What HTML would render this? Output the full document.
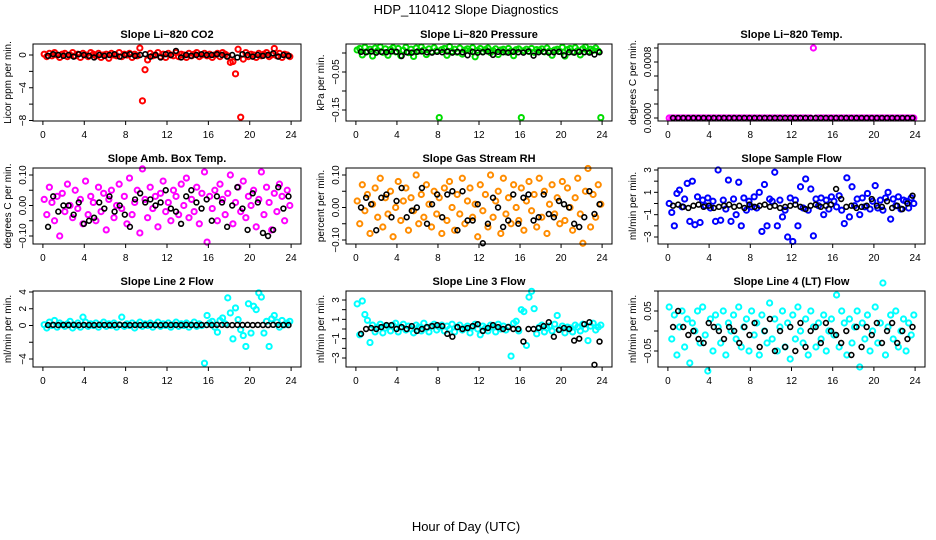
<!DOCTYPE html>
<html><head><meta charset="utf-8">
<style>
html,body{margin:0;padding:0;background:#fff;}
svg{display:block;font-family:"Liberation Sans",Arial,sans-serif;}
</style></head>
<body>
<svg id="chart" width="936" height="540" viewBox="0 0 936 540">
<text x="466" y="14" text-anchor="middle" font-size="13">HDP_110412  Slope Diagnostics</text>
<text x="466" y="531" text-anchor="middle" font-size="13">Hour of Day (UTC)</text>
</svg>
<script>
const xTicks=[0,4,8,12,16,20,24];
const co2Col=[0.1,-0.2,0.2,-0.1,0.3,0.0,-0.3,0.1,0.2,-0.2,0.0,0.3,-0.1,0.1,-0.3,0.2,
0.0,-0.2,0.3,0.1,-0.1,0.2,-0.3,0.0,0.1,-0.4,0.2,0.0,-0.1,0.3,-0.2,0.1,
0.0,0.2,-0.3,0.1,-0.1,0.85,-5.6,-1.8,-0.6,0.2,-0.1,0.0,0.3,-0.2,0.1,-0.3,
0.2,0.0,-0.1,0.3,-0.2,0.1,0.0,-0.3,0.2,-0.1,0.1,0.3,-0.2,0.0,0.2,-0.1,
0.1,-0.3,0.0,0.2,-0.2,0.3,0.1,-0.1,-0.9,-0.8,-2.3,0.7,-7.6,-0.5,0.3,-0.2,
0.1,0.0,-0.3,0.2,-0.1,0.1,0.3,-0.2,0.0,0.8,-0.1,0.2,-0.3,0.1,0.0,-0.2];
const co2Blk=[-0.1,0.1,0.0,-0.1,0.0,-0.2,0.1,0.0,-0.1,-0.3,0.0,-0.1,0.0,0.1,-0.2,0.0,0.1,-0.1,0.0,0.1,-0.2,0.0,-0.3,0.1,0.0,0.5,-0.3,0.0,-0.1,0.0,0.1,0.0,0.0,0.1,0.0,-0.2,0.0,-0.3,0.1,0.0,-0.2,0.0,-0.1,0.0,0.2,-0.2,0.0,-0.1];
const presCol=[.008,.012,-.005,.015,.004,.010,-.008,.013,.006,.016,.002,.011,-.006,.009,.014,.003,
.012,-.007,.007,.015,.001,.010,-.009,.013,.005,.016,.008,-.004,.011,.003,.014,.006,
-.17,.009,.012,-.006,.017,.004,.010,.002,.013,-.003,.008,.011,.005,.014,-.010,.007,
.012,.003,.009,.013,.001,.006,.011,-.004,.008,.010,.003,.012,.005,-.007,.009,.011,
-.17,.006,.010,.004,.012,.002,.009,.007,.011,.003,.013,.005,-.006,.008,.010,.004,
.015,-.008,.009,.012,.003,.014,.006,-.005,.011,.016,.004,.010,.007,.013,.005,-.17];
const presBlk=[.003,.002,.004,.001,.003,.002,.004,.003,-.008,.002,.001,.003,.004,.002,.001,.003,.002,.004,.001,.003,.002,-.006,.003,.001,.002,.004,-.005,.003,.002,.001,.003,.002,.001,.004,-.007,.002,.003,.001,.002,.003,-.006,.002,.001,.003,.002,.001,-.004,.002];
const tempCol=[0,0,0,0,0,0,0,0,0,0,0,0,0,0,0,0,0,0,0,0,0,0,0,0,0,0,0,0,0,0,0,0,
0,0,0,0,0,0,0,0,0,0,0,0,0,0,0,0,0,0,0,0,0,0,0,0,0.001,0,0,0,0,0,0,0,
0,0,0,0,0,0,0,0,0,0,0,0,0,0,0,0,0,0,0,0,0,0,0,0,0,0,0,0,0,0,0,0];
const tempBlk=[0,0,0,0,0,0,0,0,0,0,0,0,0,0,0,0,0,0,0,0,0,0,0,0,0,0,0,0,0,0,0,0,0,0,0,0,0,0,0,0,0,0,0,0,0,0,0,0];
const ambCol=[.02,-.03,.06,.01,-.05,.03,-.10,.04,-.02,.07,.00,-.04,.05,-.01,.02,-.06,
.08,-.03,.03,.01,-.05,.06,-.02,.04,-.08,.02,.05,-.04,.00,.07,-.01,.03,
-.06,.09,-.03,.01,.05,-.09,.12,.02,-.04,.06,-.01,.03,-.07,.04,.08,-.02,
.01,-.05,.05,.03,-.03,.07,.00,.09,-.04,.02,-.02,.06,-.06,.04,.11,-.12,
.03,-.01,.05,-.05,.07,.02,-.03,.04,.10,-.06,.01,.06,-.02,.08,-.04,.03,
.00,.05,-.07,.02,.11,-.03,.06,.01,-.08,.04,-.02,.07,.03,-.05,.05,.00];
const ambBlk=[-.07,.03,-.02,.00,.00,-.03,.01,-.06,-.05,-.04,.01,-.01,.03,-.02,.00,-.03,-.07,.02,.04,.01,.02,.00,.01,.05,-.01,-.02,-.06,.03,.05,.01,-.01,.02,-.05,.03,.01,-.07,.00,.06,-.01,-.08,.04,.01,-.09,-.10,-.08,.06,-.01,.03];
const rhCol=[.02,-.05,.07,-.01,.04,-.08,.01,.06,-.03,.09,-.06,.03,-.02,.05,-.09,.00,
.08,-.04,.02,.06,-.07,.03,-.01,.10,-.05,.04,-.03,.07,.01,-.06,.05,-.02,
.03,-.08,.06,-.04,.08,.00,-.07,.04,-.02,.09,-.05,.02,.06,-.03,.01,-.09,
.07,-.01,.04,-.06,.10,-.03,.02,.05,-.08,.09,-.02,.03,-.05,.07,.00,-.04,
.06,-.07,.02,.08,-.01,.04,-.06,.09,-.03,.05,-.08,.01,.07,-.02,.03,-.05,
.08,-.04,.06,.00,-.07,.03,.09,-.02,-.11,.05,.12,-.06,.04,-.03,.07,.01];
const rhBlk=[.00,.03,.01,-.07,.03,.04,-.03,.02,.06,-.03,-.01,.00,.06,-.05,.01,.04,-.03,.04,.05,-.07,.05,-.04,-.04,.01,-.11,-.05,.03,.00,-.06,-.04,.04,-.05,.03,.04,-.04,-.03,.04,-.02,-.03,.02,.01,.00,-.05,-.06,-.03,.05,-.02,.01];
const sampCol=[0.0,-0.8,-2.0,0.9,1.2,-0.3,0.4,1.8,-1.6,2.0,-1.9,0.6,-1.7,0.3,-0.2,0.5,
-0.4,0.2,-1.6,3.0,-1.5,0.3,-0.5,2.1,-1.6,0.4,-1.0,1.9,-2.0,0.5,-0.6,0.2,
-0.3,0.6,-0.4,1.0,-2.5,1.7,-2.0,0.4,0.2,2.8,-2.0,0.3,-1.2,-0.6,-3.0,0.5,
-3.4,0.3,-2.0,1.5,-0.4,2.2,-0.6,1.3,-2.9,0.4,-0.2,0.5,-1.0,0.3,-0.5,0.6,
0.2,-0.3,0.7,-0.6,-1.8,2.3,-1.2,1.5,-0.2,0.4,-1.0,0.5,-0.3,0.9,-0.5,0.2,
1.6,-0.4,0.3,-0.6,0.5,1.0,-1.4,0.4,-0.2,0.6,-0.5,0.3,0.2,-0.4,0.5,0.0];
const sampBlk=[-0.2,-0.1,-0.3,-0.4,-0.2,-0.1,-0.3,-0.2,-0.4,-0.3,-0.2,-0.1,-0.3,-0.2,-0.4,-0.1,-0.3,-0.2,-0.1,-0.3,-0.2,-0.4,-0.3,-0.2,-0.1,-0.3,-0.5,-0.2,-0.1,-0.3,-0.2,-0.1,1.3,0.4,-0.3,-0.2,-0.4,-0.3,-0.2,0.4,-0.2,-0.3,0.2,-0.4,-0.2,-0.5,0.0,0.7];
const l2Col=[0.1,-0.3,0.4,0.0,0.6,-0.2,0.3,0.1,-0.1,0.2,0.5,-0.3,0.0,0.3,-0.2,1.0,
0.4,-0.1,0.2,0.0,0.3,-0.2,0.1,0.4,-0.1,0.2,0.0,0.3,-0.2,0.1,1.0,-0.1,
0.2,0.0,0.3,-0.3,0.1,0.4,-0.1,0.2,0.0,0.3,-0.2,0.1,0.4,-0.1,0.2,0.0,
0.3,-0.2,0.1,0.4,-0.1,0.2,0.0,0.3,-0.2,0.1,0.4,-0.1,0.2,0.0,-4.5,1.2,
0.3,0.5,-0.2,-0.8,0.6,0.9,0.2,3.3,1.5,-1.6,2.1,0.7,-0.5,-1.2,-2.5,2.6,
-0.9,2.3,1.9,3.9,3.4,-0.9,0.5,-2.5,0.8,1.2,0.4,-0.2,0.6,0.1,0.3,0.5];
const l2Blk=[.05,.08,.05,.07,.06,.08,.05,.07,.06,.05,.08,.07,.05,.06,.08,.07,.05,.06,.05,.08,.07,.06,.05,.08,.06,.07,.05,.08,.06,.05,.07,.06,.05,.08,.07,.06,.05,.07,.06,.08,.05,.07,.06,.05,.08,.07,.06,.05];
const l3Col=[2.6,-0.6,2.9,1.5,0.9,-1.4,0.4,-0.3,0.2,0.5,-0.4,0.1,0.3,-0.2,0.4,0.6,
-0.3,0.2,0.5,-0.1,0.3,0.0,-0.4,0.4,0.2,-0.2,0.6,0.1,-0.3,0.3,0.5,-0.1,
0.2,0.4,-0.2,0.3,0.0,0.5,-0.3,0.2,0.4,-0.1,0.1,0.3,-0.4,0.2,0.5,0.0,
-0.6,0.3,0.1,-0.2,0.4,0.2,-0.3,0.5,0.0,0.3,-0.1,0.2,-2.8,0.6,0.8,-0.2,
2.0,1.8,-1.7,3.3,3.9,2.1,-0.5,0.2,0.4,-0.3,0.1,0.3,-0.2,0.5,1.4,0.0,
0.3,-0.4,0.2,0.1,-0.3,0.4,0.2,-0.2,0.5,0.0,-1.2,0.3,0.6,-0.1,0.2,0.4];
const l3Blk=[-0.5,0.0,0.1,0.0,0.2,0.4,0.4,0.0,0.2,0.0,0.3,-0.2,0.0,0.2,0.3,0.4,0.3,-0.5,-0.8,0.2,0.0,0.1,0.3,0.5,-0.2,0.1,0.4,0.2,0.0,0.2,0.0,0.0,-1.3,0.0,0.0,0.1,0.3,0.7,-0.8,-0.1,0.1,0.0,-1.2,-1.0,0.5,0.7,-3.7,-1.3];
const l4Col=[.06,-.02,.04,-.06,.01,.05,-.04,.03,-.08,.02,.00,.05,-.03,.06,-.01,-.10,
.03,-.05,.04,.01,-.03,.05,-.06,.02,.00,.04,-.02,.06,-.04,.01,.03,-.05,
.05,-.01,.02,-.06,.04,.00,-.03,.07,-.02,.03,-.05,.01,.05,-.04,.02,-.07,
.04,-.02,.06,.00,-.03,.03,-.06,.05,.01,-.04,.02,-.02,.04,-.05,.00,.03,
-.01,.09,-.04,.05,.02,-.06,.03,-.03,.01,.05,-.09,.02,-.02,.04,-.05,.00,
.06,-.03,.02,.12,-.06,.01,.04,-.02,.05,-.04,.00,.03,-.05,.02,-.01,.04];
const l4Blk=[.01,.05,.01,-.01,.00,-.02,-.03,.02,.01,.00,-.02,.01,.00,-.03,.01,-.01,.02,-.04,.00,.03,-.05,.00,-.04,.01,-.05,.02,-.04,.00,.01,-.03,.02,.00,-.01,-.03,.00,-.06,.01,-.04,.01,-.01,.02,-.03,.00,.02,-.03,.00,-.02,.01];

const yT1=[0,-2,-4,-6,-8], yL1=["0","","−4","","−8"];
const yT2=[0,-0.05,-0.10,-0.15], yL2=["","−0.05","","−0.15"];
const yT3=[0,0.0002,0.0004,0.0006,0.0008,0.001], yL3=["0.0000","","","","0.0008",""];
const yT4=[-0.1,-0.05,0,0.05,0.1], yL4=["−0.10","","0.00","","0.10"];
const yT6=[-3,-2,-1,0,1,2,3], yL6=["−3","","−1","","1","","3"];
const yT7=[-4,-2,0,2,4], yL7=["−4","","0","2","4"];
const yT9=[-0.1,-0.05,0,0.05,0.1], yL9=["","−0.05","","0.05",""];

const colsX=[[33,301],[346,612],[658,925]];
const rowsY=[[44,121],[168,244],[291,367]];
const panels=[
 {name:"co2",title:"Slope Li−820 CO2",ylab:"Licor ppm per min.",c:0,r:0,m:[0,55,-8,120.5],t:yT1,l:yL1,color:"#ff0000",col:co2Col,blk:co2Blk},
 {name:"pressure",title:"Slope Li−820 Pressure",ylab:"kPa per min.",c:1,r:0,m:[0,53,-0.15,110],t:yT2,l:yL2,color:"#00dd00",col:presCol,blk:presBlk},
 {name:"temp",title:"Slope Li−820 Temp.",ylab:"degrees C per min.",c:2,r:0,m:[0,118,0.0008,62],t:yT3,l:yL3,color:"#ff00ff",col:tempCol,blk:tempBlk},
 {name:"amb-box-temp",title:"Slope Amb. Box Temp.",ylab:"degrees C per min.",c:0,r:1,m:[0.1,175,-0.1,236],t:yT4,l:yL4,color:"#ff00ff",col:ambCol,blk:ambBlk},
 {name:"gas-stream-rh",title:"Slope Gas Stream RH",ylab:"percent per min.",c:1,r:1,m:[0.1,175,-0.1,240],t:yT4,l:yL4,color:"#ff8c00",col:rhCol,blk:rhBlk},
 {name:"sample-flow",title:"Slope Sample Flow",ylab:"ml/min per min.",c:2,r:1,m:[3,170,-3,237],t:yT6,l:yL6,color:"#0000ff",col:sampCol,blk:sampBlk},
 {name:"line2-flow",title:"Slope Line 2 Flow",ylab:"ml/min per min.",c:0,r:2,m:[4,292,-4,359],t:yT7,l:yL7,color:"#00ffff",col:l2Col,blk:l2Blk},
 {name:"line3-flow",title:"Slope Line 3 Flow",ylab:"ml/min per min.",c:1,r:2,m:[3,300,-3,358],t:yT6,l:yL6,color:"#00ffff",col:l3Col,blk:l3Blk},
 {name:"line4-flow",title:"Slope Line 4 (LT) Flow",ylab:"ml/min per min.",c:2,r:2,m:[0.05,311,-0.05,351],t:yT9,l:yL9,color:"#00ffff",col:l4Col,blk:l4Blk}
];
const NS="http://www.w3.org/2000/svg";
const svg=document.getElementById("chart");
function mk(tag,attrs,parent){const e=document.createElementNS(NS,tag);for(const k in attrs)e.setAttribute(k,attrs[k]);parent.appendChild(e);return e;}
panels.forEach(p=>{
 const [x0,x1]=colsX[p.c],[y0,y1]=rowsY[p.r];
 const xs=t=>x0+9.9+t*(x1-x0-19.8)/24;
 const ys=v=>p.m[1]+(v-p.m[0])*(p.m[3]-p.m[1])/(p.m[2]-p.m[0]);
 const g=mk("g",{},svg);
 
 
 const title=mk("text",{x:(x0+x1)/2,y:y0-6,"text-anchor":"middle","font-size":"11","font-weight":"bold"},g);
 title.textContent=p.title;
 
 
 const yl=mk("text",{x:0,y:0,"text-anchor":"middle","font-size":"10",transform:`translate(${x0-22},${(y0+y1)/2}) rotate(-90)`},g);
 yl.textContent=p.ylab;
 
 
 const pts=mk("g",{fill:"none","stroke-width":"2"},g);
 
 
 const n=p.col.length;
 p.col.forEach((v,i)=>{
  const t=0.125+i*(23.75/(n-1));
  const c=mk("circle",{cx:xs(t),cy:ys(v),r:2.6,stroke:p.color},pts);
  
  
 });
 const bg=mk("g",{fill:"none","stroke-width":"1.6"},g);
 
 
 const m=p.blk.length;
 p.blk.forEach((v,i)=>{
  const t=0.5+i*(23.25/(m-1));
  const c=mk("circle",{cx:xs(t),cy:ys(v),r:2.4,stroke:"#000"},bg);
  
  
 });
 const box=mk("rect",{x:x0,y:y0,width:x1-x0,height:y1-y0,fill:"none",stroke:"#000","stroke-width":"1"},g);
 
 
 const xa=mk("g",{},g);
 
 
 xTicks.forEach(t=>{
  mk("line",{x1:xs(t),x2:xs(t),y1:y1,y2:y1+4,stroke:"#000"},xa);
  const tx=mk("text",{x:xs(t),y:y1+17,"text-anchor":"middle","font-size":"10"},xa);
  tx.textContent=t;
  
  
 });
 const ya=mk("g",{},g);
 
 
 p.t.forEach((v,i)=>{
  const y=ys(v); if(y<y0-0.5||y>y1+0.5) return;
  mk("line",{x1:x0-4,x2:x0,y1:y,y2:y,stroke:"#000"},ya);
  if(p.l[i]){
   const tx=mk("text",{x:0,y:0,"text-anchor":"middle","font-size":"10",transform:`translate(${x0-7},${y}) rotate(-90)`},ya);
   tx.textContent=p.l[i];
   
   
  }
 });
});
</script>
</body></html>
